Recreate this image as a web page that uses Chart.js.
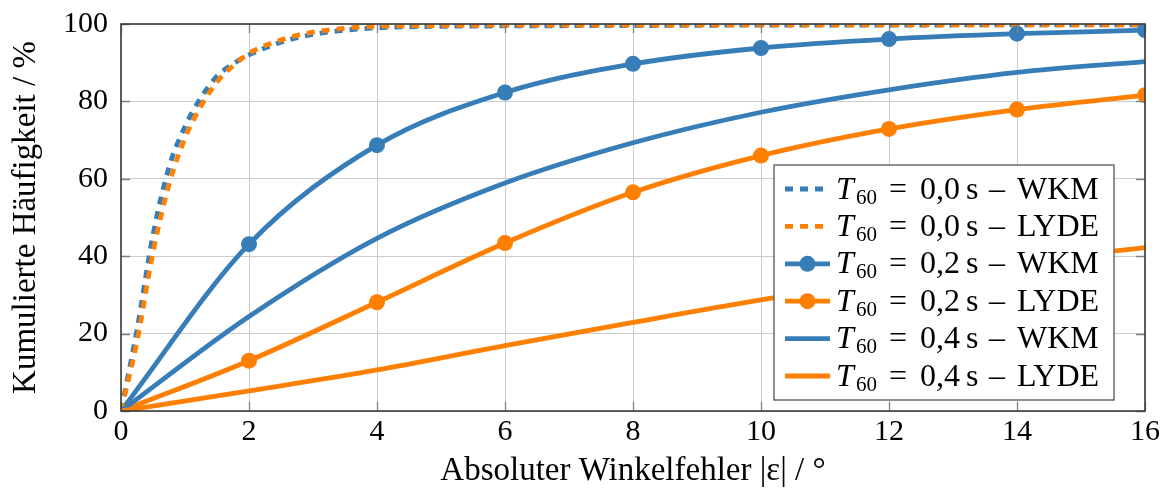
<!DOCTYPE html>
<html>
<head>
<meta charset="utf-8">
<script src="https://cdn.jsdelivr.net/npm/chart.js@4.4.0/dist/chart.umd.min.js"></script>
<style>
  html, body { margin: 0; padding: 0; background: #fff; }
</style>
</head>
<body>
<canvas id="cdf_chart" width="1168" height="494"></canvas>
<script>
const ctx = document.getElementById('cdf_chart').getContext('2d')

const FONT = "'Liberation Serif', 'Times New Roman', serif"

const BLUE = '#377eb8'
const ORANGE = '#ff7f00'

const X_TICKS = [0, 2, 4, 6, 8, 10, 12, 14, 16]
const Y_TICKS = [0, 20, 40, 60, 80, 100]

// T60 = 0,0 s: fein abgetastet
const x_fine = [0, 0.25, 0.5, 0.75, 1, 1.25, 1.5, 1.75, 2, 2.5, 3, 3.5, 4, 5, 6, 8, 10, 12, 14, 16]
const wkm_00 = [0, 21, 45.5, 63, 73.5, 81, 86.5, 89.7, 92, 95.3, 97.3, 98.4, 99.0, 99.4, 99.5, 99.6, 99.7, 99.7, 99.8, 99.8]
const lyde_00 = [0, 18, 41, 58.5, 70.5, 78.8, 85, 89.2, 92.4, 95.9, 97.9, 98.9, 99.4, 99.6, 99.7, 99.7, 99.8, 99.8, 99.8, 99.8]

// T60 = 0,2 s und 0,4 s: alle 2 Grad
const x_coarse = [0, 2, 4, 6, 8, 10, 12, 14, 16]
const wkm_02 = [0, 43.1, 68.7, 82.3, 89.7, 93.8, 96.1, 97.5, 98.4]
const lyde_02 = [0, 13.0, 28.1, 43.4, 56.5, 66.0, 72.9, 77.9, 81.6]
const wkm_04 = [0, 24.4, 44.6, 58.9, 69.3, 77.2, 83.0, 87.5, 90.3]
const lyde_04 = [0, 5.2, 10.6, 16.9, 22.9, 28.7, 33.8, 38.4, 42.2]

const LEGEND_T = ['0,0', '0,0', '0,2', '0,2', '0,4', '0,4']
const LEGEND_METHOD = ['WKM', 'LYDE', 'WKM', 'LYDE', 'WKM', 'LYDE']

function toPoints (xs, ys) {
  return xs.map((x, i) => ({ x: x, y: ys[i] }))
}

function makeDataset (xs, ys, color, dotted, marker) {
  return {
    data: toPoints(xs, ys),
    borderColor: color,
    backgroundColor: color,
    borderWidth: 4.8,
    borderDash: dotted ? [8, 7] : [],
    borderCapStyle: 'butt',
    pointRadius: marker ? 8 : 0,
    pointBorderWidth: 0,
    pointBackgroundColor: color,
    cubicInterpolationMode: 'monotone',
    tension: 0.4,
    fill: false
  }
}

const series = [
  makeDataset(x_fine, wkm_00, BLUE, true, false),
  makeDataset(x_fine, lyde_00, ORANGE, true, false),
  makeDataset(x_coarse, wkm_02, BLUE, false, true),
  makeDataset(x_coarse, lyde_02, ORANGE, false, true),
  makeDataset(x_coarse, wkm_04, BLUE, false, false),
  makeDataset(x_coarse, lyde_04, ORANGE, false, false)
]
// spaetere Kurven liegen oben
series.forEach((ds, i) => { ds.order = series.length - i })

// Rahmen und nach innen zeigende Ticks
const frameTicks = {
  id: 'frameTicks',
  afterDatasetsDraw (chart) {
    const c = chart.ctx
    const a = chart.chartArea
    const xs = chart.scales.x
    const ys = chart.scales.y
    c.save()
    c.strokeStyle = '#808080'
    c.lineWidth = 1.3
    c.beginPath()
    X_TICKS.forEach(v => {
      const px = Math.round(xs.getPixelForValue(v)) + 0.5
      c.moveTo(px, a.bottom); c.lineTo(px, a.bottom - 9)
      c.moveTo(px, a.top); c.lineTo(px, a.top + 9)
    })
    Y_TICKS.forEach(v => {
      const py = Math.round(ys.getPixelForValue(v)) + 0.5
      c.moveTo(a.left, py); c.lineTo(a.left + 9, py)
      c.moveTo(a.right, py); c.lineTo(a.right - 9, py)
    })
    c.stroke()
    c.strokeStyle = '#3a3a3a'
    c.lineWidth = 1.6
    c.strokeRect(a.left, a.top, a.right - a.left, a.bottom - a.top)
    c.restore()
  }
}

// Legende im Diagramm, unten rechts
const legendBox = {
  id: 'legendBox',
  afterDraw (chart) {
    const c = chart.ctx
    const a = chart.chartArea
    const right = a.right - 31
    const bottom = a.bottom - 11
    const rowH = 37.4
    const padY = 24
    const w = 340
    const h = rowH * 5 + padY * 2
    const left = right - w
    const top = bottom - h

    c.save()
    c.fillStyle = '#fff'
    c.fillRect(left, top, w, h)
    c.strokeStyle = '#555'
    c.lineWidth = 1.3
    c.strokeRect(left, top, w, h)

    chart.data.datasets.forEach((ds, i) => {
      const cy = top + padY + i * rowH
      const x0 = left + 11
      const x1 = left + 56
      c.strokeStyle = ds.borderColor
      c.lineWidth = ds.borderWidth
      c.lineCap = 'butt'
      c.setLineDash(ds.borderDash.length ? [8, 7] : [])
      c.beginPath()
      c.moveTo(x0, cy)
      c.lineTo(x1, cy)
      c.stroke()
      c.setLineDash([])
      if (ds.pointRadius > 0) {
        c.fillStyle = ds.borderColor
        c.beginPath()
        c.arc((x0 + x1) / 2, cy, ds.pointRadius, 0, Math.PI * 2)
        c.fill()
      }

      // T_60 = 0,x s – Methode, Teile einzeln gesetzt
      c.fillStyle = '#000'
      c.textBaseline = 'alphabetic'
      c.textAlign = 'left'
      const base = cy + 9.5
      c.font = 'italic 32px ' + FONT
      c.fillText('T', left + 62, base)
      c.font = '21px ' + FONT
      c.fillText('60', left + 82, base + 5)
      c.font = '32px ' + FONT
      c.fillText('=', left + 115, base)
      c.fillText(LEGEND_T[i], left + 146, base)
      c.fillText('s', left + 192, base)
      c.fillText('\u2013', left + 215, base)
      c.fillText(LEGEND_METHOD[i], left + 243, base)
    })
    c.restore()
  }
}

// keine zusaetzlichen Raender fuer ueberstehende Ticklabels
function noOverhang (scale) {
  scale.paddingTop = 0
  scale.paddingBottom = 0
  scale.paddingLeft = 0
  scale.paddingRight = 0
}

Chart.defaults.font.family = FONT
Chart.defaults.font.size = 30
Chart.defaults.color = '#000'

new Chart(ctx, {
  type: 'line',
  data: { datasets: series },
  options: {
    responsive: false,
    animation: false,
    layout: { padding: { top: 24, right: 23, left: 0, bottom: 0 } },
    plugins: {
      legend: { display: false },
      tooltip: { enabled: false }
    },
    scales: {
      x: {
        type: 'linear',
        min: 0,
        max: 16,
        afterFit: scale => { scale.height = 83; noOverhang(scale) },
        afterBuildTicks: scale => { scale.ticks = X_TICKS.map(v => ({ value: v })) },
        grid: { color: '#cccccc', lineWidth: 1, drawTicks: false },
        border: { display: false },
        ticks: { padding: 3, maxRotation: 0 },
        title: {
          display: true,
          text: 'Absoluter Winkelfehler |\u03b5| / \u00b0',
          font: { size: 33 },
          padding: { top: 0, bottom: 3 }
        }
      },
      y: {
        type: 'linear',
        min: 0,
        max: 100,
        afterFit: scale => { scale.width = 121; noOverhang(scale) },
        afterBuildTicks: scale => { scale.ticks = Y_TICKS.map(v => ({ value: v })) },
        grid: { color: '#cccccc', lineWidth: 1, drawTicks: false },
        border: { display: false },
        ticks: { padding: 13 },
        title: {
          display: true,
          text: 'Kumulierte H\u00e4ufigkeit / %',
          font: { size: 33 },
          padding: { top: 7, bottom: 0 }
        }
      }
    }
  },
  plugins: [frameTicks, legendBox]
})
</script>
</body>
</html>
